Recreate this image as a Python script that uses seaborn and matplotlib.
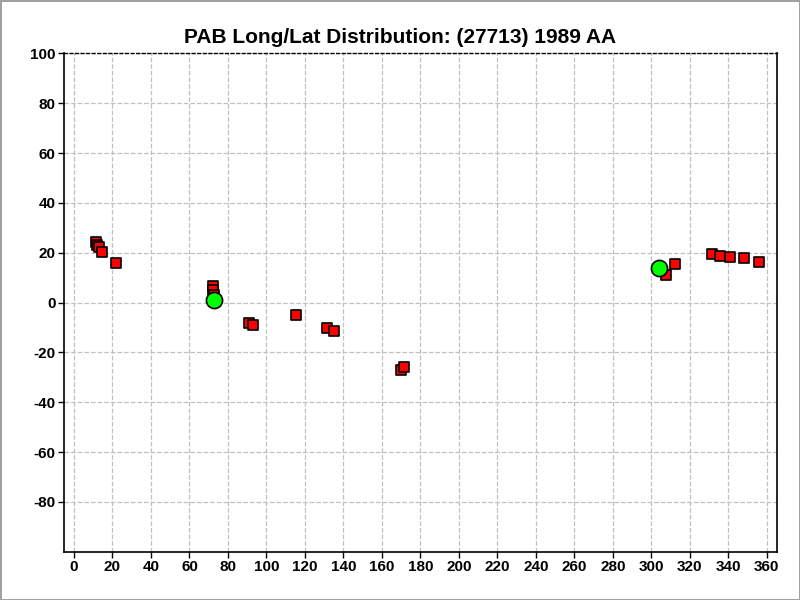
# PAB Long/Lat distribution plot for (27713) 1989 AA
import numpy as np
import pandas as pd
import matplotlib
matplotlib.use("Agg")
import matplotlib.pyplot as plt
import seaborn as sns

# ------------------------------------------------------------- #
# Data
# ------------------------------------------------------------- #
# PAB points (red squares)
pab_long = [11.3, 12.1, 13.2, 14.7, 22.0, 72.4, 72.4, 72.6, 91.0, 93.2,
            115.6, 131.7, 135.3, 170.1, 171.7, 307.5, 312.5, 331.3,
            335.9, 341.1, 347.9, 355.7]
pab_lat = [24.2, 23.1, 22.1, 20.3, 15.8, 6.5, 5.0, 3.0, -8.3, -9.1,
           -5.1, -10.3, -11.5, -27.1, -25.9, 11.1, 15.4, 19.4,
           18.6, 18.2, 17.8, 16.2]
# Average / pole solutions (green circles)
pole_long = [72.9, 304.1]
pole_lat = [1.1, 13.9]

title = "PAB Long/Lat Distribution: (27713) 1989 AA"
xticks = list(range(0, 361, 20))
yticks = list(range(-80, 101, 20))

# ------------------------------------------------------------- #
sns.set_style("white")
plt.rcParams['font.family'] = ['Liberation Sans', 'DejaVu Sans']
plt.rcParams['font.weight'] = 'bold'
plt.rcParams['axes.unicode_minus'] = False
plt.rcParams['text.color'] = 'black'
plt.rcParams['xtick.color'] = 'black'
plt.rcParams['ytick.color'] = 'black'

fig = plt.figure(figsize=(8, 6), dpi=100)
fig.patch.set_edgecolor('#a0a0a0')
fig.patch.set_linewidth(2)
ax = fig.add_axes([0.08, 0.0805, 0.891, 0.8305])

df_pab = pd.DataFrame({'long': pab_long, 'lat': pab_lat})
df_pole = pd.DataFrame({'long': pole_long, 'lat': pole_lat})

sns.scatterplot(data=df_pab, x='long', y='lat', ax=ax, marker='s', s=58,
                color='#ff0000', edgecolor='black', linewidth=1.2, zorder=3)
sns.scatterplot(data=df_pole, x='long', y='lat', ax=ax, marker='o', s=135,
                color='#00ff00', edgecolor='black', linewidth=1.2, zorder=4)

ax.set_xlim(-5.2, 365.2)
ax.set_ylim(-100, 100)
ax.set_xticks(xticks)
ax.set_yticks(yticks)
ax.set_xlabel('')
ax.set_ylabel('')
ax.grid(True, color='#c0c0c0', linestyle='--', linewidth=0.9)
ax.set_axisbelow(True)

for side in ['left', 'bottom', 'right']:
    ax.spines[side].set_color('black')
    ax.spines[side].set_linewidth(1.2)
ax.spines['top'].set_color('black')
ax.spines['top'].set_linestyle((0, (2, 2)))
ax.spines['top'].set_linewidth(1.0)

ax.tick_params(axis='both', which='major', direction='out', length=4,
               width=1, color='black', labelcolor='black', labelsize=11,
               pad=2, bottom=True, left=True)
for lab in ax.get_xticklabels() + ax.get_yticklabels():
    lab.set_fontweight('bold')

# title is centred on the figure, not on the axes
fig.text(0.5, 0.937, title, ha='center', va='center', fontsize=15,
         fontweight='bold', color='black')

plt.savefig('out.png', dpi=100, facecolor='white', edgecolor=fig.get_edgecolor())
plt.close()
